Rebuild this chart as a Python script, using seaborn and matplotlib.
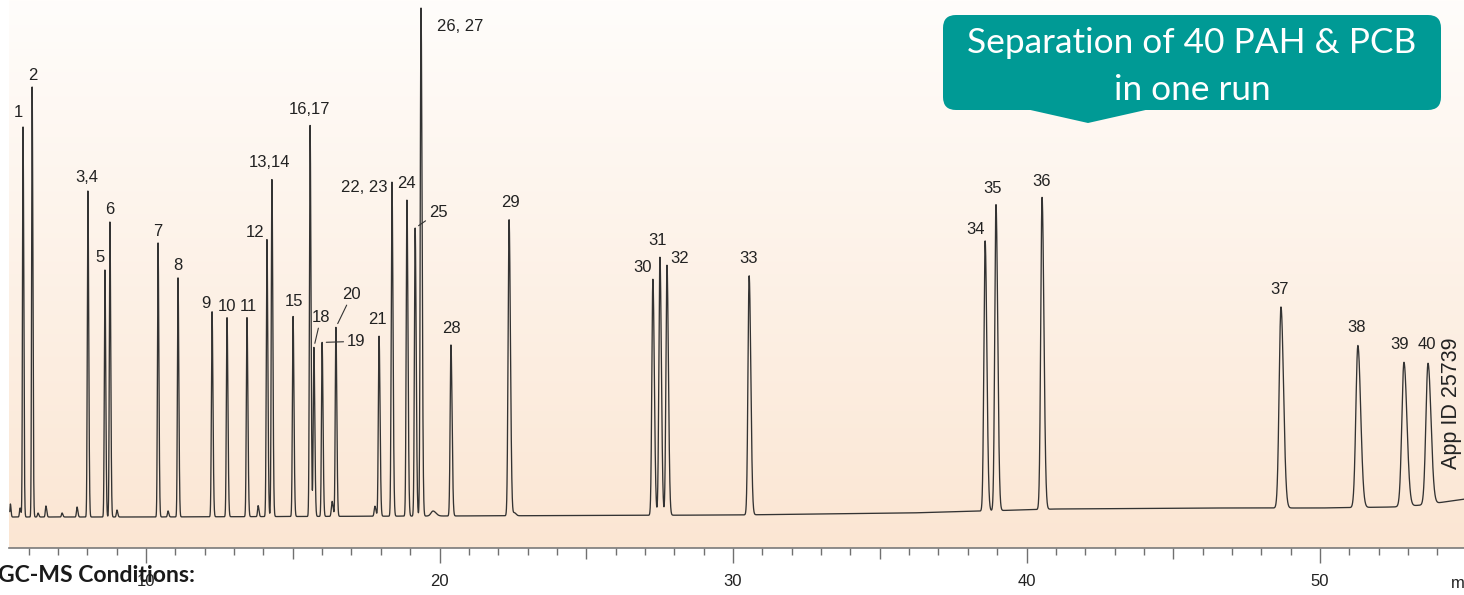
import numpy as np
import pandas as pd
import matplotlib
matplotlib.use("Agg")
import matplotlib.pyplot as plt
import seaborn as sns
from matplotlib.colors import LinearSegmentedColormap
from matplotlib.patches import FancyBboxPatch, Polygon
from matplotlib.ticker import MultipleLocator


# -------------------------------
# Peak table
# -------------------------------

peak_labels = [
    "1", "2", "3,4", "5", "6", "7", "8", "9", "10", "11",
    "12", "13,14", "15", "16,17", "18", "19", "20", "21", "22, 23", "24",
    "25", "26, 27", "28", "29", "30", "31", "32", "33", "34", "35",
    "36", "37", "38", "39", "40"
]

rt_min = [
    5.81, 6.12, 8.02, 8.60, 8.77, 10.41, 11.09, 12.25, 12.76, 13.44,
    14.12, 14.29, 15.01, 15.59, 15.72, 16.00, 16.47, 17.94, 18.38, 18.89,
    19.17, 19.37, 20.39, 22.37, 27.27, 27.51, 27.75, 30.55, 38.59, 38.96,
    40.53, 48.67, 51.29, 52.86, 53.68
]

height = [
    390, 430, 326, 247, 295, 274, 239, 205, 199, 199,
    277, 337, 200, 391, 169, 174, 189, 180, 334, 316,
    288, 508, 171, 296, 236, 258, 250, 239, 270, 306,
    312, 201, 162, 144, 141
]

width_min = [
    0.018, 0.018, 0.020, 0.020, 0.020, 0.020, 0.020, 0.022, 0.022, 0.022,
    0.022, 0.022, 0.022, 0.022, 0.022, 0.022, 0.022, 0.024, 0.025, 0.025,
    0.025, 0.026, 0.027, 0.033, 0.035, 0.035, 0.035, 0.040, 0.042, 0.042,
    0.045, 0.062, 0.068, 0.072, 0.072
]

# small unlabelled bumps
minor_rt = [5.38, 5.71, 6.32, 6.59, 7.14, 7.65, 9.01, 10.75, 13.82, 16.34, 17.80, 19.78, 22.55]
minor_height = [13, 9, 4, 11, 4, 10, 7, 6, 11, 15, 10, 5, 3]
minor_width = [0.015, 0.02, 0.02, 0.02, 0.02, 0.02, 0.02, 0.02, 0.02, 0.025, 0.025, 0.07, 0.04]

# baseline drift
base_t = [5.36, 10, 20, 30, 36, 38.5, 41, 46, 50, 52.5, 53.5, 54.95]
base_level = [0, 0, 1, 2, 4, 6, 8, 9, 9, 10, 12, 18]

tick_major = [10, 15, 20, 25, 30, 35, 40, 45, 50]
tick_text = ["10", "", "20", "", "30", "", "40", "", "50"]


# -------------------------------
# Build the trace
# -------------------------------

tail = 1.4
t = np.arange(5.36, 54.95, 0.002)
signal = np.interp(t, base_t, base_level).astype(float)

for rt, h, w in zip(rt_min + minor_rt, height + minor_height, width_min + minor_width):
    s = np.where(t < rt, w, w * tail)
    signal += h * np.exp(-0.5 * ((t - rt) / s) ** 2)

df = pd.DataFrame({"Time (min)": t, "Abundance": signal})


# -------------------------------
# Figure
# -------------------------------

sns.set_theme(style="white")
label_font = ["Liberation Sans Narrow", "Liberation Sans", "DejaVu Sans"]
plt.rcParams["font.family"] = label_font

W, H = 1464, 595
fig = plt.figure(figsize=(W / 100, H / 100), dpi=100)
fig.patch.set_facecolor("white")

ax = fig.add_axes([9 / W, 47 / H, 1 - 9 / W, 548 / H])
xlim = (5.332, 54.906)
ylim = (-31, 517)

# warm background gradient
grad = np.linspace(0, 1, 256).reshape(-1, 1)
cmap = LinearSegmentedColormap.from_list("bg", ["#fbe6d3", "#fffdfb"])
ax.imshow(grad, extent=[xlim[0], xlim[1], ylim[0], ylim[1]], origin="lower",
          aspect="auto", cmap=cmap, zorder=0)

sns.lineplot(
    data=df,
    x="Time (min)",
    y="Abundance",
    ax=ax,
    color="#333333",
    linewidth=0.95,
    estimator=None,
    sort=False,
    zorder=2
)

ax.set_xlim(*xlim)
ax.set_ylim(*ylim)
ax.set_xlabel("")
ax.set_ylabel("")
ax.set_yticks([])

for side in ["left", "top", "right"]:
    ax.spines[side].set_visible(False)
ax.spines["bottom"].set_color("#7a7a7a")
ax.spines["bottom"].set_linewidth(1.2)

ax.set_xticks(tick_major)
ax.set_xticklabels(tick_text)
ax.xaxis.set_minor_locator(MultipleLocator(1))
ax.tick_params(axis="x", which="both", bottom=True)
ax.tick_params(axis="x", which="major", direction="out", length=15 * 0.72,
               width=1, color="#707070", pad=8, labelsize=12, labelcolor="#222222")
ax.tick_params(axis="x", which="minor", direction="out", length=7 * 0.72,
               width=1, color="#707070")
for tk, val in zip(ax.xaxis.get_major_ticks(), tick_major):
    if val % 10:
        tk.tick1line.set_markersize(11 * 0.72)

# peak labels
label_offset = {
    "1": (-5, 14), "2": (1, 11), "3,4": (-1, 14), "5": (-5, 12), "6": (0, 12),
    "7": (0, 11), "8": (0, 12), "9": (-6, 8), "10": (0, 11), "11": (1, 11),
    "12": (-12, 7), "13,14": (-2, 17), "15": (1, 15), "16,17": (-1, 16),
    "18": (7, 30), "19": (34, 1), "20": (16, 33), "21": (-2, 17),
    "22, 23": (-28, -5), "24": (0, 17), "25": (23, 16), "26, 27": (39, -18),
    "28": (0, 16), "29": (1, 17), "30": (-10, 12), "31": (-2, 17),
    "32": (13, 7), "33": (-1, 17), "34": (-10, 11), "35": (-3, 16),
    "36": (-1, 16), "37": (-1, 18), "38": (-1, 18), "39": (-4, 18), "40": (-1, 19),
}
leaders = ["18", "19", "20", "25"]

for lbl, rt in zip(peak_labels, rt_min):
    apex = signal[np.argmin(np.abs(t - rt))]
    dx, dy = label_offset[lbl]
    arrow = None
    if lbl in leaders:
        arrow = dict(arrowstyle="-", color="#333333", lw=0.8, shrinkA=0, shrinkB=3)
    ax.annotate(
        lbl,
        xy=(rt, apex),
        xytext=(dx, dy),
        textcoords="offset pixels",
        ha="center",
        va="center",
        fontsize=12,
        color="#222222",
        arrowprops=arrow,
        annotation_clip=False,
        zorder=3
    )


# -------------------------------
# Overlay: callout and side texts (pixel coordinates)
# -------------------------------

ov = fig.add_axes([0, 0, 1, 1])
ov.set_xlim(0, W)
ov.set_ylim(H, 0)
ov.axis("off")
ov.patch.set_alpha(0)

teal = "#009a95"
ov.add_patch(FancyBboxPatch((943, 15), 498, 95,
                            boxstyle="round,pad=0,rounding_size=13",
                            facecolor=teal, edgecolor="none"))
ov.add_patch(Polygon([(1026, 109), (1150, 109), (1088, 123)],
                     closed=True, facecolor=teal, edgecolor="none"))

callout_font = ["Lato", "DejaVu Sans"]
ov.text(1192, 53, "Separation of 40 PAH & PCB", ha="center", va="baseline",
        fontsize=25.4, color="white", family=callout_font)
ov.text(1192, 100, "in one run", ha="center", va="baseline",
        fontsize=25.4, color="white", family=callout_font)

ov.text(-2, 582, "GC-MS Conditions:", ha="left", va="baseline",
        fontsize=16.6, fontweight="bold", color="#1a1a1a", family=callout_font)

ov.text(1451, 588, "min", ha="left", va="baseline", fontsize=12, color="#222222")

ov.text(1452, 403, "App ID 25739", rotation=90, ha="center", va="center",
        fontsize=15.5, color="#222222", family=["Liberation Sans", "DejaVu Sans"])

fig.savefig("out.png", dpi=100)
